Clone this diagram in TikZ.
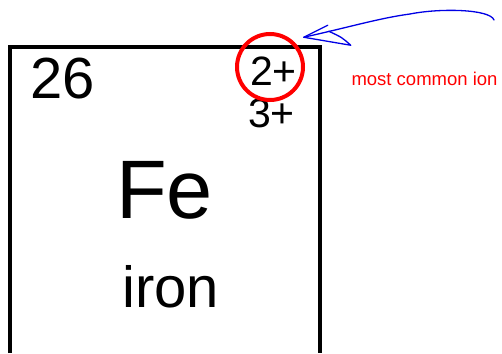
\documentclass[tikz,border=0pt]{standalone}
\usepackage{fontspec}
\setmainfont{Liberation Sans}
\usetikzlibrary{positioning}

\begin{document}
\begin{tikzpicture}[
  x=1pt, y=-1pt,
  lbl/.style={inner sep=0pt, anchor=base, font=\fontsize{#1}{#1}\selectfont},
  ring/.style={draw=red, line width=4pt, circle, minimum size=66pt, inner sep=0pt},
  pen/.style={draw=blue!90!black, line width=1.3pt, line cap=round, line join=round}
]
\useasboundingbox (0,0) rectangle (502,353);

% element box
\draw[line width=4pt] (10,353) -- (10,47) -- (320,47) -- (320,353);

\node[lbl=58] (num)  at (62.5,98)  {26};
\node[lbl=41] (ion2) at (273.5,85) {2+};
\node[lbl=41] (ion3) at (271.5,127) {3+};
\node[lbl=83] (sym)  at (164.5,218) {Fe};
\node[lbl=58] (name) at (170.5,307) {iron};

\node[ring] (circ) at (270,67) {};
\node[lbl=18.5, text=red] (note) at (424.5,85) {most common ion};

% hand-drawn arrow
\coordinate (tail) at (494,20);
\coordinate (tip) at ([xshift=9pt,yshift=5pt]circ.north east);
\draw[pen] (tail) .. controls (490,9) and (440,8) .. (410,14)
  .. controls (380,18) and (350,27) .. (tip);
\draw[pen] ([shift={(24,-12)}]tip) -- (tip) -- ([shift={(47,8)}]tip)
  .. controls ([shift={(38,0)}]tip) .. ([shift={(25,-6)}]tip);
\end{tikzpicture}
\end{document}
